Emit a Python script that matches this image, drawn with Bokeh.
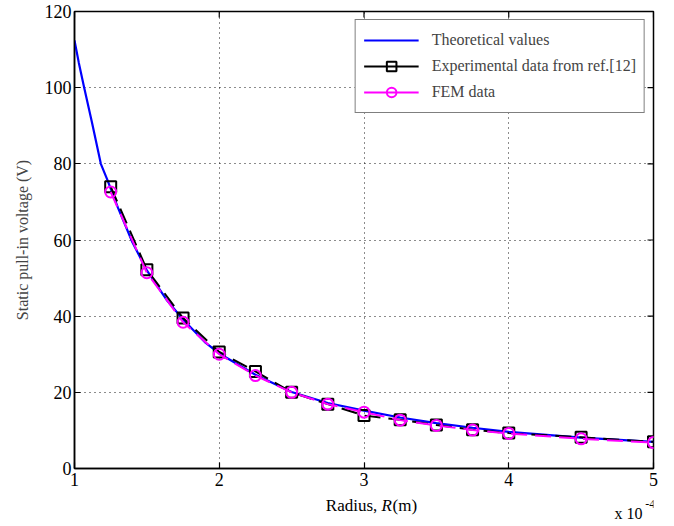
from bokeh.plotting import figure
from bokeh.layouts import column
from bokeh.models import Range1d, FixedTicker, Legend, LegendItem
from bokeh.core.properties import value
from bokeh.embed import file_html
from bokeh.resources import INLINE

# ---- data (radius in units of 1e-4 m, voltage in V) ----
theory_r = [1.00, 1.03, 1.067, 1.12, 1.182, 1.225, 1.25, 1.30, 1.40, 1.50, 1.64, 1.755,
            1.90, 2.00, 2.25, 2.50, 2.75, 3.00, 3.25, 3.50, 3.75, 4.00, 4.50, 5.00]
theory_v = [112.4, 106.5, 100.0, 91.0, 80.0, 76.0, 73.5, 68.5, 59.4, 52.0, 44.1, 38.9,
            33.2, 30.2, 24.6, 20.1, 17.2, 15.2, 13.4, 11.9, 10.7, 9.6, 8.1, 7.0]

exp_r = [1.25, 1.50, 1.75, 2.00, 2.25, 2.50, 2.75, 3.00, 3.25, 3.50, 3.75, 4.00, 4.50, 5.00]
exp_v = [74.0, 52.2, 39.5, 30.6, 25.5, 20.0, 16.9, 13.9, 12.8, 11.4, 10.2, 9.3, 8.2, 7.0]

fem_r = [1.25, 1.50, 1.75, 2.00, 2.25, 2.50, 2.75, 3.00, 3.25, 3.50, 3.75, 4.00, 4.50, 5.00]
fem_v = [72.6, 51.4, 38.4, 30.0, 24.4, 20.0, 16.9, 14.8, 12.7, 11.3, 10.1, 9.2, 7.8, 6.8]

x_ticks = [1, 2, 3, 4, 5]
y_ticks = [0, 20, 40, 60, 80, 100, 120]
x_lo, x_hi = 1, 5
y_lo, y_hi = 0, 120

FONT = "Liberation Serif"
BL, BR = 74, 21

p = figure(width=674, height=494, output_backend="svg", toolbar_location=None,
           x_range=Range1d(x_lo, x_hi), y_range=Range1d(y_lo, y_hi),
           min_border_left=BL, min_border_right=BR, min_border_top=11,
           min_border_bottom=26)
p.extra_y_ranges = {"legend_proxy": Range1d(1000, 1001)}
p.background_fill_color = "white"
p.border_fill_color = "white"
p.outline_line_color = "black"
p.outline_line_width = 1.5

# axes
for ax in (p.xaxis[0], p.yaxis[0]):
    ax.axis_line_width = 1.5
    ax.major_tick_in = 6
    ax.major_tick_out = 0
    ax.minor_tick_line_color = None
    ax.major_label_text_font = FONT
    ax.major_label_text_font_size = "18px"
    ax.major_label_text_color = "black"
    ax.major_tick_line_width = 1.2
p.xaxis.ticker = FixedTicker(ticks=x_ticks)
p.yaxis.ticker = FixedTicker(ticks=y_ticks)
p.xaxis.major_label_standoff = 4
p.yaxis.major_label_standoff = 3
p.yaxis.axis_label = "Static pull-in voltage (V)"
p.yaxis.axis_label_text_font = FONT
p.yaxis.axis_label_text_font_size = "16px"
p.yaxis.axis_label_text_font_style = "normal"
p.yaxis.axis_label_standoff = 11

# mirrored inward ticks on the top and right edges (at the tick values)
tick_dx = (x_hi - x_lo) * 6 / 579.0
tick_dy = (y_hi - y_lo) * 6 / 457.0
p.segment(x0=[x_hi] * len(y_ticks), y0=y_ticks, x1=[x_hi - tick_dx] * len(y_ticks),
          y1=y_ticks, line_color="black", line_width=1.2)
p.segment(x0=x_ticks, y0=[y_hi] * len(x_ticks), x1=x_ticks,
          y1=[y_hi - tick_dy] * len(x_ticks), line_color="black", line_width=1.2)

# grid
p.grid.grid_line_color = "black"
p.grid.grid_line_dash = "1 4"
p.grid.grid_line_width = 1
p.grid.grid_line_alpha = 0.9

# series
r_theory = p.line(theory_r, theory_v, line_color="#0000ff", line_width=2.2)
p.line(exp_r, exp_v, line_color="black", line_width=2, line_dash="16 8")
p.scatter(exp_r, exp_v, marker="square", size=11, line_color="black",
          line_width=2, fill_color=None)
p.line(fem_r, fem_v, line_color="#ff00ff", line_width=2, line_dash="16 8")
p.scatter(fem_r, fem_v, marker="circle", size=11, line_color="#ff00ff",
          line_width=2, fill_color=None)

# legend proxies (solid lines with markers), drawn on an out-of-view range
lg_exp_line = p.line(exp_r, exp_v, y_range_name="legend_proxy",
                     line_color="black", line_width=2)
lg_exp_mark = p.scatter(exp_r, exp_v, y_range_name="legend_proxy", marker="square",
                        line_color="black", line_width=2, fill_color=None)
lg_fem_line = p.line(fem_r, fem_v, y_range_name="legend_proxy",
                     line_color="#ff00ff", line_width=2)
lg_fem_mark = p.scatter(fem_r, fem_v, y_range_name="legend_proxy", marker="circle",
                        line_color="#ff00ff", line_width=2, fill_color=None)

legend = Legend(items=[
    LegendItem(label="Theoretical values", renderers=[r_theory]),
    LegendItem(label="Experimental data from ref.[12]", renderers=[lg_exp_line, lg_exp_mark]),
    LegendItem(label="FEM data", renderers=[lg_fem_line, lg_fem_mark]),
], location="top_right")
legend.margin = 8
legend.padding = 8
legend.spacing = 2
legend.glyph_width = 55
legend.glyph_height = 24
legend.label_height = 24
legend.label_standoff = 13
legend.label_text_font = FONT
legend.label_text_font_size = "16px"
legend.border_line_color = "black"
legend.border_line_width = 1.3
legend.background_fill_alpha = 1
p.add_layout(legend)

# ---- strip below the chart holding the x-axis title and the exponent note ----
H2 = 32
p2 = figure(width=674, height=H2, output_backend="svg", toolbar_location=None,
            x_range=p.x_range, y_range=Range1d(0, H2),
            x_axis_type=None, y_axis_type=None,
            min_border_left=BL, min_border_right=BR, min_border_top=0, min_border_bottom=0)
p2.outline_line_color = None
p2.grid.visible = False
p2.background_fill_color = "white"
p2.border_fill_color = "white"

common = dict(text_baseline="middle", text_font=value(FONT), text_color="black")
p2.text(x=[3.121], y=[21], text=["Radius, "], text_align="right",
        text_font_size="17px", **common)
p2.text(x=[3.121], y=[21], text=["R"], text_align="left", text_font_size="17px",
        text_font_style="italic", **common)
p2.text(x=[3.197], y=[21], text=["(m)"], text_align="left", text_font_size="17px", **common)
p2.text(x=[4.731], y=[13], text=["x 10"], text_align="left", text_font_size="16px", **common)
p2.text(x=[4.943], y=[23], text=["-4"], text_align="left", text_font_size="12px", **common)

layout = column(p, p2, spacing=0)
open("out.html", "w").write(file_html(layout, INLINE))
